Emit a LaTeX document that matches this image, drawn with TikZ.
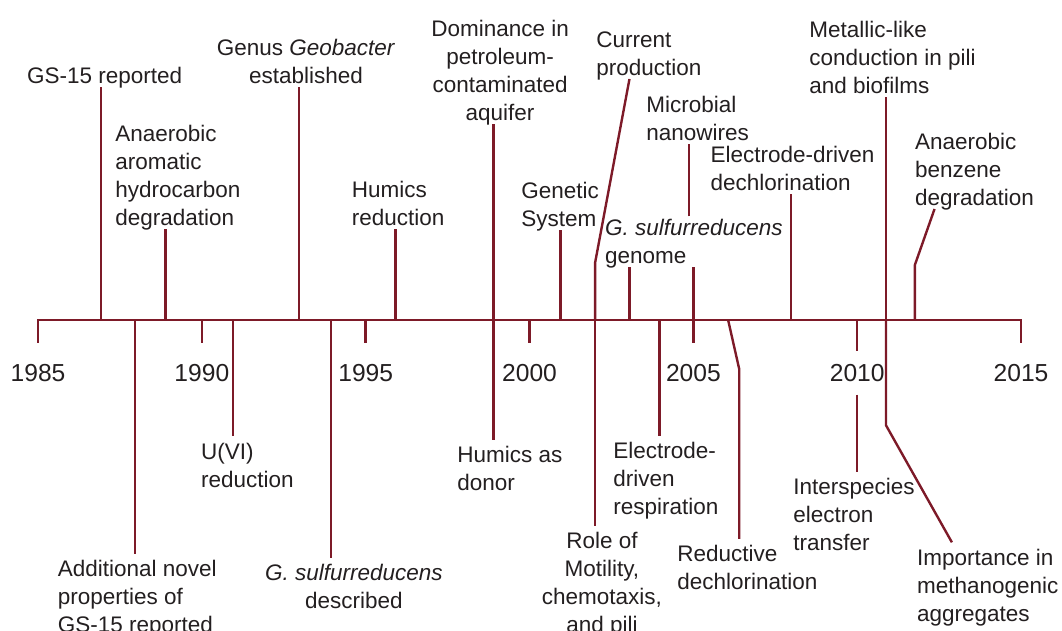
\documentclass[tikz,border=0pt]{standalone}
\usepackage{fontspec}
\setmainfont{Liberation Sans}
\definecolor{tlred}{RGB}{125,26,40}
\definecolor{txtgray}{RGB}{35,31,32}

\begin{document}
\begin{tikzpicture}[x=0.8192cm, y=0.025cm,
    every node/.style={text=txtgray, font=\fontsize{16}{19.9}\selectfont},
    ev/.style={line width=1.7pt, tlred},
    toplbl/.style={anchor=south west, align=left, text depth=0pt, inner xsep=0pt, inner ysep=2pt},
    toplblc/.style={toplbl, anchor=south, align=center},
    botlbl/.style={anchor=north west, align=left, inner xsep=0pt, inner ysep=4.5pt},
    botlblc/.style={botlbl, anchor=north, align=center},
    yrlbl/.style={font=\fontsize{17.5}{21}\selectfont, inner ysep=9pt}]
  \useasboundingbox (-1.16,320) rectangle (31.25,-311);
  \coordinate (A) at (0,0);
  \coordinate (B) at (30,0);
  \draw[ev, line join=miter] (0,-23) -- (A) -- (B) -- (30,-23);
  \foreach \x in {5,10,...,25}{
    \coordinate (Y\x) at (\x,0);
    \draw[ev] (Y\x) -- ++(0,-23);
  }
  \foreach \x in {0,5,...,30}{
    \pgfmathtruncatemacro\yy{1985+\x}
    \node[yrlbl] (y\yy) at (\x,-53) {\yy};
  }

  % events above the axis
  \coordinate (f1) at (1.93,0);
  \node[toplbl] (t1) at (-0.34,233) {GS-15 reported};
  \draw[ev] (f1) -- (f1 |- t1.south);

  \coordinate (f2) at (3.89,0);
  \node[toplbl] (t2) at (2.35,91) {Anaerobic\\aromatic\\hydrocarbon\\degradation};
  \draw[ev] (f2) -- (f2 |- t2.south);

  \coordinate (f3) at (7.96,0);
  \node[toplblc] (t3) at (8.18,233) {Genus \textit{Geobacter}\\established};
  \draw[ev] (f3) -- (f3 |- t3.south);

  \coordinate (f4) at (10.91,0);
  \node[toplbl] (t4) at (9.57,91) {Humics\\reduction};
  \draw[ev] (f4) -- (f4 |- t4.south);

  \coordinate (f5) at (13.90,0);
  \node[toplblc] (t5) at (14.10,196) {Dominance in\\petroleum-\\contaminated\\aquifer};
  \draw[ev] (f5) -- (f5 |- t5.south);

  \coordinate (f6) at (15.94,0);
  \node[toplbl] (t6) at (14.74,90) {Genetic\\System};
  \draw[ev] (f6) -- (f6 |- t6.south);

  \coordinate (f7) at (17.0,0);
  \coordinate (b7) at (17.0,57);
  \coordinate (f8) at (18.05,0);
  \node[toplbl] (t7) at (17.03,241) {Current\\production};
  \draw[ev] (f7) -- (b7) -- (f8 |- t7.south);

  \node[toplbl] (t8) at (17.30,53) {\textit{G. sulfurreducens}\\genome};
  \draw[ev] (f8) -- (f8 |- t8.south);

  \coordinate (u9) at (19.86,0);
  \node[toplbl] (t9) at (18.56,176) {Microbial\\nanowires};
  \draw[ev] (Y20) -- (Y20 |- t8.south);
  \draw[ev] (u9 |- t8.north) -- (u9 |- t9.south);

  \coordinate (f10) at (22.97,0);
  \node[toplbl] (t10) at (20.52,126) {Electrode-driven\\dechlorination};
  \draw[ev] (f10) -- (f10 |- t10.south);

  \coordinate (f11) at (25.88,0);
  \node[toplbl] (t11) at (23.53,223) {Metallic-like\\conduction in pili\\and biofilms};
  \draw[ev] (f11) -- (f11 |- t11.south);

  \coordinate (f12) at (26.76,0);
  \coordinate (b12) at (26.76,55);
  \coordinate (k12) at (27.36,0);
  \node[toplbl] (t12) at (26.76,111) {Anaerobic\\benzene\\degradation};
  \draw[ev] (f12) -- (b12) -- (k12 |- t12.south);

  % events below the axis
  \coordinate (f13) at (2.96,0);
  \node[botlbl] (t13) at (0.595,-234) {Additional novel\\properties of\\GS-15 reported};
  \draw[ev] (f13) -- (f13 |- t13.north);

  \coordinate (f14) at (5.95,0);
  \node[botlbl] (t14) at (4.97,-116.5) {U(VI)\\reduction};
  \draw[ev] (f14) -- (f14 |- t14.north);

  \coordinate (f15) at (8.94,0);
  \node[botlblc] (t15) at (9.64,-238) {\textit{G. sulfurreducens}\\described};
  \draw[ev] (f15) -- (f15 |- t15.north);

  \coordinate (f16) at (13.90,0);
  \node[botlbl] (t16) at (12.79,-120) {Humics as\\donor};
  \draw[ev] (f16) -- (f16 |- t16.north);

  \node[botlblc] (t17) at (17.21,-206) {Role of\\Motility,\\chemotaxis,\\and pili};
  \draw[ev] (f7) -- (f7 |- t17.north);

  \coordinate (f18) at (18.97,0);
  \node[botlbl] (t18) at (17.55,-116) {Electrode-\\driven\\respiration};
  \draw[ev] (f18) -- (f18 |- t18.north);

  \coordinate (f19) at (21.06,0);
  \coordinate (b19) at (21.40,-49.3);
  \node[botlbl] (t19) at (19.50,-219) {Reductive\\dechlorination};
  \draw[ev] (f19) -- (b19) -- (b19 |- t19.north);

  \coordinate (f20) at (25,0);
  \node[botlbl] (t20) at (23.04,-152) {Interspecies\\electron\\transfer};
  \draw[ev] (f20) -- (f20 |- y2010.north);
  \draw[ev] (f20 |- y2010.south) -- (f20 |- t20.north);

  \coordinate (b21) at (25.88,-105.5);
  \coordinate (k21) at (27.89,0);
  \node[botlbl] (t21) at (26.82,-222.5) {Importance in\\methanogenic\\aggregates};
  \draw[ev] (f11) -- (b21) -- (k21 |- t21.north);
\end{tikzpicture}
\end{document}
